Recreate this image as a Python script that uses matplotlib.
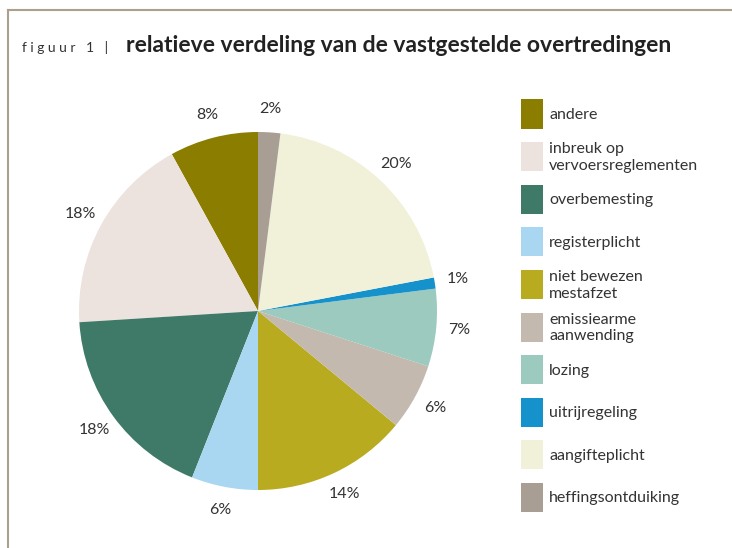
import matplotlib.pyplot as plt
from matplotlib.patches import Rectangle
from matplotlib.lines import Line2D

# Data (counter-clockwise from 12 o'clock, same order as legend)
categories = [
    "andere",
    "inbreuk op\nvervoersreglementen",
    "overbemesting",
    "registerplicht",
    "niet bewezen\nmestafzet",
    "emissiearme\naanwending",
    "lozing",
    "uitrijregeling",
    "aangifteplicht",
    "heffingsontduiking",
]
shares = [8, 18, 18, 6, 14, 6, 7, 1, 20, 2]
colors = [
    "#8b7d00", "#ede3de", "#3f7a68", "#a9d6f1", "#b8ab1f",
    "#c4b9af", "#9dcabe", "#1591cb", "#f1f0d8", "#a89e93",
]

plt.rcParams["font.family"] = ["Lato", "DejaVu Sans"]
W, H = 732, 548
fig = plt.figure(figsize=(W / 100, H / 100), dpi=100)

# frame lines (top and left)
frame_color = "#aaa08c"
fig.add_artist(Line2D([8 / W, 1], [1 - 10 / H, 1 - 10 / H], color=frame_color, lw=1.5))
fig.add_artist(Line2D([8 / W, 8 / W], [0, 1 - 10 / H], color=frame_color, lw=1.5))

# title
fig.text(22 / W, 1 - 52 / H, "f i g u u r   1   |", fontsize=10, color="#333333", va="baseline")
fig.text(126 / W, 1 - 52 / H, "relatieve verdeling van de vastgestelde overtredingen",
         fontsize=16.5, fontweight="bold", color="#222222", va="baseline")

# pie
cx, cy, r = 258, 311, 179
ax = fig.add_axes([(cx - r) / W, (H - cy - r) / H, 2 * r / W, 2 * r / H])
wedges, texts, autotexts = ax.pie(
    shares,
    colors=colors,
    startangle=90,
    counterclock=True,
    autopct="%d%%",
    pctdistance=1.13,
    wedgeprops=dict(linewidth=0),
    textprops=dict(fontsize=11.5, color="#333333"),
)
ax.set_xlim(-1, 1)
ax.set_ylim(-1, 1)
ax.set_aspect("equal")

# legend drawn manually with even row spacing
y0, step = 114, 42.6
for i, (lab, col) in enumerate(zip(categories, colors)):
    yc = y0 + i * step
    fig.add_artist(Rectangle((521 / W, 1 - (yc + 14.5) / H), 22 / W, 29 / H,
                             facecolor=col, edgecolor="none"))
    fig.text(549 / W, 1 - (yc + 1) / H, lab, fontsize=11.5, color="#333333",
             va="center", ha="left", linespacing=1.25)

fig.savefig("out.png", dpi=100)
